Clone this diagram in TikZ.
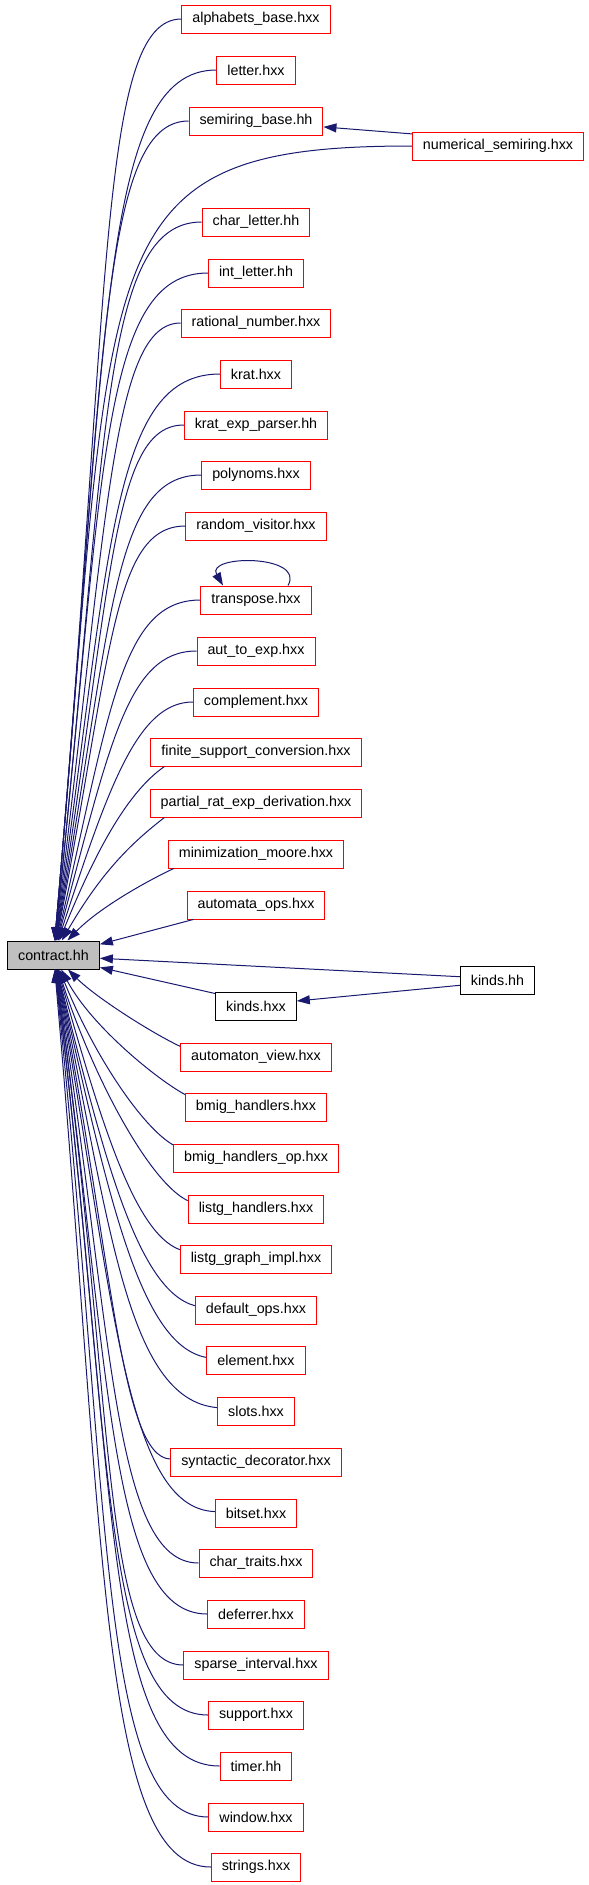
\documentclass[tikz,border=0pt]{standalone}
\usepackage{fontspec}
\setmainfont{Liberation Sans}
\usepackage{tikz}
\usetikzlibrary{arrows.meta}

\definecolor{depblue}{RGB}{25,25,112}
\definecolor{hdrgray}{RGB}{191,191,191}

\begin{document}
\begin{tikzpicture}[x=1pt, y=-1pt,
  hdr/.style={draw=red, line width=1pt, font=\fontsize{14.3pt}{17pt}\selectfont,
    minimum height=28pt, inner xsep=10.5pt, inner ysep=0pt},
  hdrblack/.style={hdr, draw=black},
  hdrmain/.style={hdr, draw=black, fill=hdrgray},
  dep/.style={draw=depblue, line width=1pt, -{Triangle[length=13pt,width=9pt]}}]

\useasboundingbox (0,0) rectangle (589,1885);

% headers
\node[hdr] (alph) at (256,19) {alphabets\_base.hxx};
\node[hdr] (letter) at (256,70) {letter.hxx};
\node[hdr] (semiring) at (256,121) {semiring\_base.hh};
\node[hdr] (numsr) at (498,146) {numerical\_semiring.hxx};
\node[hdr] (charletter) at (256,222) {char\_letter.hh};
\node[hdr] (intletter) at (256,273) {int\_letter.hh};
\node[hdr] (rational) at (256,323) {rational\_number.hxx};
\node[hdr] (krat) at (256,374) {krat.hxx};
\node[hdr] (kratexp) at (256,425) {krat\_exp\_parser.hh};
\node[hdr] (polynoms) at (256,475) {polynoms.hxx};
\node[hdr] (randvis) at (256,526) {random\_visitor.hxx};
\node[hdr] (transpose) at (256,600) {transpose.hxx};
\node[hdr] (auttoexp) at (256,651) {aut\_to\_exp.hxx};
\node[hdr] (complement) at (256,702) {complement.hxx};
\node[hdr] (finsupp) at (256,752) {finite\_support\_conversion.hxx};
\node[hdr] (partial) at (256,803) {partial\_rat\_exp\_derivation.hxx};
\node[hdr] (minmoore) at (256,854) {minimization\_moore.hxx};
\node[hdr] (autops) at (256,905) {automata\_ops.hxx};
\node[hdrmain] (contract) at (53.5,955) {contract.hh};
\node[hdrblack] (kindshh) at (497.5,980) {kinds.hh};
\node[hdrblack] (kindshxx) at (256,1006) {kinds.hxx};
\node[hdr] (autview) at (256,1057) {automaton\_view.hxx};
\node[hdr] (bmig) at (256,1107) {bmig\_handlers.hxx};
\node[hdr] (bmigop) at (256,1158) {bmig\_handlers\_op.hxx};
\node[hdr] (listgh) at (256,1209) {listg\_handlers.hxx};
\node[hdr] (listgg) at (256,1259) {listg\_graph\_impl.hxx};
\node[hdr] (defops) at (256,1310) {default\_ops.hxx};
\node[hdr] (element) at (256,1360) {element.hxx};
\node[hdr] (slots) at (256,1411) {slots.hxx};
\node[hdr] (syndec) at (256,1462) {syntactic\_decorator.hxx};
\node[hdr] (bitset) at (256,1513) {bitset.hxx};
\node[hdr] (chartraits) at (256,1563) {char\_traits.hxx};
\node[hdr] (deferrer) at (256,1614) {deferrer.hxx};
\node[hdr] (sparse) at (256,1665) {sparse\_interval.hxx};
\node[hdr] (support) at (256,1715) {support.hxx};
\node[hdr] (timer) at (256,1766) {timer.hh};
\node[hdr] (window) at (256,1817) {window.hxx};
\node[hdr] (strings) at (256,1867) {strings.hxx};

% includes from above
\draw[dep] (alph) to[out=180, in=85, out distance=83pt, in distance=645pt] (contract);
\draw[dep] (letter) to[out=180, in=85, out distance=116pt, in distance=610pt] (contract);
\draw[dep] (semiring) to[out=180, in=85, out distance=89pt, in distance=574pt] (contract);
\draw[dep] (numsr.172) -- (semiring.-5);
\draw[dep] (numsr) to[out=180, in=85, out distance=330pt, in distance=700pt] (contract);
\draw[dep] (charletter) to[out=180, in=84, out distance=101pt, in distance=503pt] (contract);
\draw[dep] (intletter) to[out=180, in=84, out distance=108pt, in distance=468pt] (contract);
\draw[dep] (rational) to[out=180, in=83, out distance=68pt, in distance=433pt] (contract);
\draw[dep] (krat) to[out=180, in=82, out distance=108pt, in distance=397pt] (contract);
\draw[dep] (kratexp) to[out=180, in=81, out distance=72pt, in distance=361pt] (contract);
\draw[dep] (polynoms) to[out=180, in=80, out distance=89pt, in distance=326pt] (contract);
\draw[dep] (randvis) to[out=180, in=79, out distance=73pt, in distance=290pt] (contract);
\draw[dep] (transpose) to[out=180, in=77, out distance=79pt, in distance=239pt] (contract);
\draw[dep] ([xshift=32pt]transpose.north) to[out=60, in=120, distance=36pt] ([xshift=-33pt]transpose.north);
\draw[dep] (auttoexp) to[out=180, in=75, out distance=69pt, in distance=203pt] (contract);
\draw[dep] (complement) to[out=180, in=72, out distance=54pt, in distance=167pt] (contract);
\draw[dep] (finsupp.189) to[out=215, in=68, out distance=35pt, in distance=120pt] (contract);
\draw[dep] (partial.189) to[out=218, in=60, out distance=35pt, in distance=85pt] (contract);
\draw[dep] (minmoore.190) to[out=205, in=46, out distance=30pt, in distance=45pt] (contract);

% straight ones
\draw[dep] (autops.193) -- (contract.13);
\draw[dep] (kindshh.175) -- (contract.-4);
\draw[dep] (kindshh.188) -- (kindshxx.7);
\draw[dep] (kindshxx.163) -- (contract.-15);

% includes from below
\draw[dep] (autview.172) to[out=155, in=315, out distance=30pt, in distance=40pt] (contract);
\draw[dep] (bmig.170) to[out=152, in=298, out distance=30pt, in distance=65pt] (contract);
\draw[dep] (bmigop.171) to[out=150, in=292, out distance=35pt, in distance=95pt] (contract);
\draw[dep] (listgh.173) to[out=155, in=288, out distance=40pt, in distance=120pt] (contract);
\draw[dep] (listgg.173) to[out=160, in=286, out distance=50pt, in distance=150pt] (contract);
\draw[dep] (defops.176) to[out=165, in=284, out distance=60pt, in distance=190pt] (contract);
\draw[dep] (element.177) to[out=170, in=283, out distance=70pt, in distance=220pt] (contract);
\draw[dep] (slots) to[out=175, in=282, out distance=92pt, in distance=255pt] (contract);
\draw[dep] (syndec) to[out=178, in=281, out distance=50pt, in distance=290pt] (contract);
\draw[dep] (bitset) to[out=178, in=280, out distance=90pt, in distance=330pt] (contract);
\draw[dep] (chartraits) to[out=180, in=279, out distance=86pt, in distance=365pt] (contract);
\draw[dep] (deferrer) to[out=180, in=278, out distance=100pt, in distance=400pt] (contract);
\draw[dep] (sparse) to[out=180, in=278, out distance=84pt, in distance=435pt] (contract);
\draw[dep] (support) to[out=180, in=277, out distance=108pt, in distance=470pt] (contract);
\draw[dep] (timer) to[out=180, in=277, out distance=118pt, in distance=510pt] (contract);
\draw[dep] (window) to[out=180, in=276, out distance=110pt, in distance=545pt] (contract);
\draw[dep] (strings) to[out=180, in=275, out distance=110pt, in distance=580pt] (contract);

\end{tikzpicture}
\end{document}
